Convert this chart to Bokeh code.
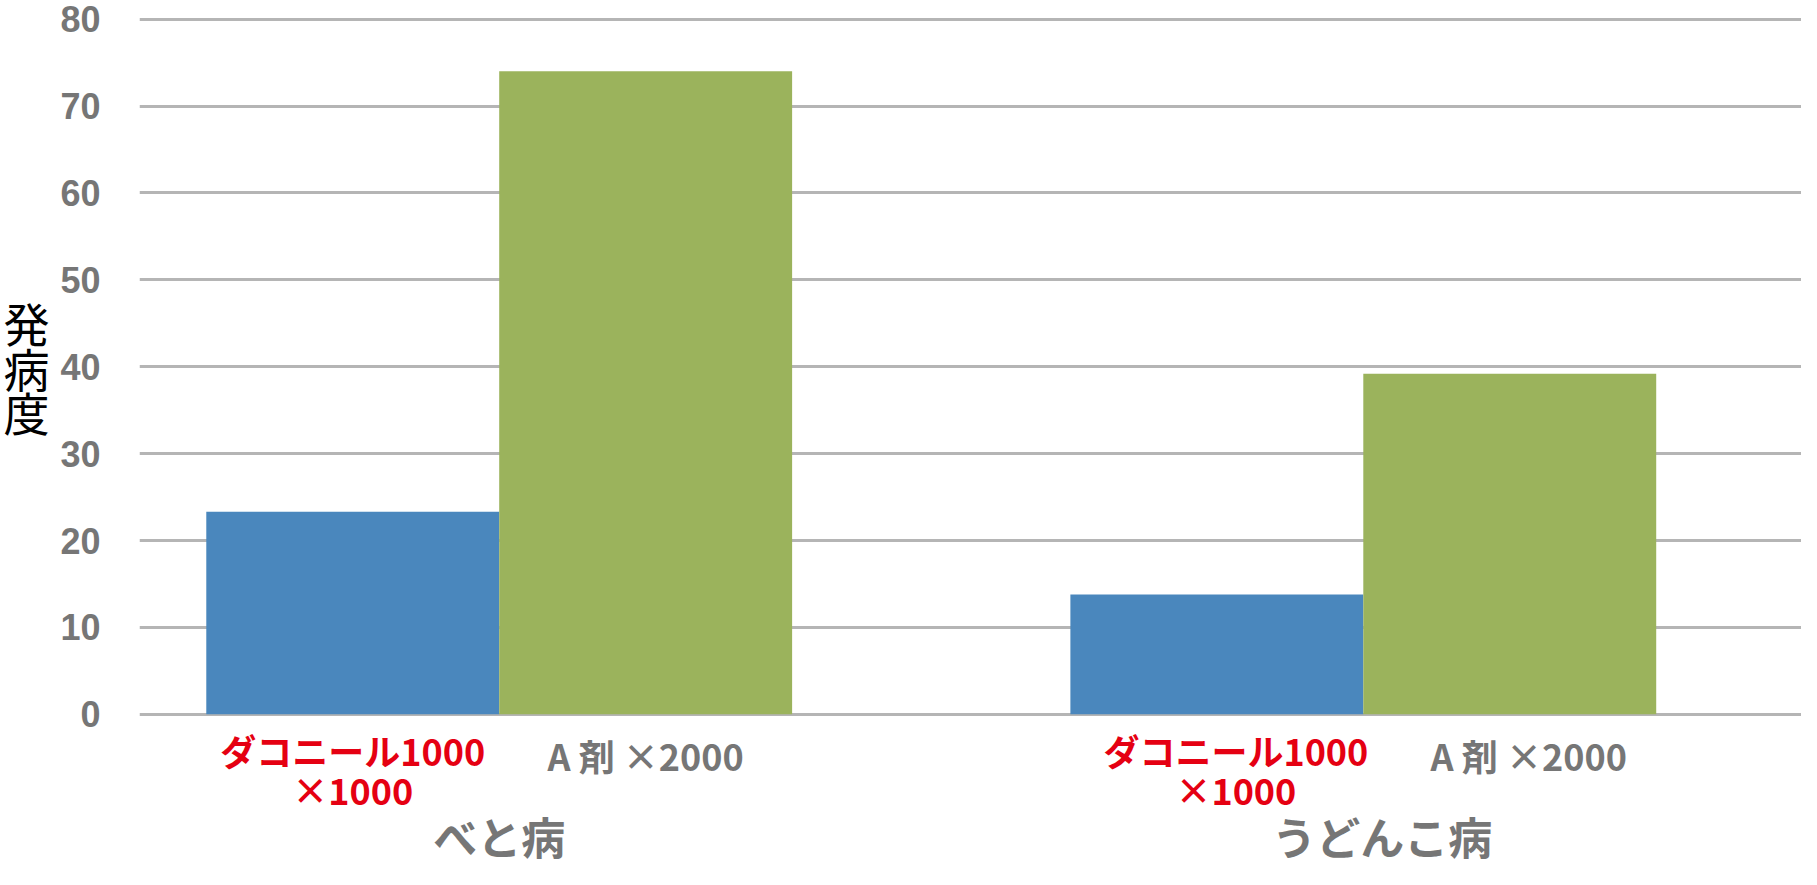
from bokeh.plotting import figure
from bokeh.models import Range1d, LinearAxis, FixedTicker, ColumnDataSource
from bokeh.embed import file_html
from bokeh.resources import INLINE

# ---- data ----
groups = ["べと病", "うどんこ病"]
treatments = ["ダコニール1000\n×1000", "A 剤 ×2000"]
daconil = [23.3, 13.8]
agent_a = [74.0, 39.2]
y_ticks = [0, 10, 20, 30, 40, 50, 60, 70, 80]
y_title = "発病度"

GAP = 0.95
n_t = len(treatments)
LABEL_SHIFT = [0.0, 0.065]   # the reference's labels of the 2nd group sit a bit right


def xpos(i, j):
    return i * (n_t + GAP) + j + 0.5


x_dac = [xpos(i, 0) for i in range(len(groups))]
x_a = [xpos(i, 1) for i in range(len(groups))]
x_grp = [xpos(i, 0) + (n_t - 1) / 2 for i in range(len(groups))]
lx_dac = [x + s for x, s in zip(x_dac, LABEL_SHIFT)]
lx_a = [x + s for x, s in zip(x_a, LABEL_SHIFT)]
lx_grp = [x + s for x, s in zip(x_grp, LABEL_SHIFT)]

GREY = "#767676"
RED = "#e50012"
BLUE = "#4a87bd"
GREEN = "#9bb35c"
GRID = "#b5b5b5"
CJK = "Noto Sans CJK JP"

p = figure(width=1801, height=869,
           x_range=Range1d(-0.228, 5.446), y_range=Range1d(-0.25, 80.3),
           output_backend="svg", toolbar_location=None,
           x_axis_location=None,
           min_border_left=133, min_border_right=0,
           min_border_top=16, min_border_bottom=153)
p.outline_line_color = None
p.background_fill_color = "white"
p.border_fill_color = "white"

src_d = ColumnDataSource(dict(x=x_dac, top=daconil))
src_a = ColumnDataSource(dict(x=x_a, top=agent_a))
p.vbar(x="x", top="top", bottom=0, width=1.0, source=src_d, fill_color=BLUE, line_color=None)
p.vbar(x="x", top="top", bottom=0, width=1.0, source=src_a, fill_color=GREEN, line_color=None)

# y axis
yax = p.yaxis[0]
yax.ticker = FixedTicker(ticks=y_ticks)
yax.axis_line_color = None
yax.major_tick_line_color = None
yax.minor_tick_line_color = None
yax.major_label_standoff = 33
yax.major_label_text_font = "Liberation Sans"
yax.major_label_text_font_style = "bold"
yax.major_label_text_font_size = "36px"
yax.major_label_text_color = GREY
yax.axis_label = "\n".join(list(y_title))
yax.axis_label_orientation = "horizontal"
yax.axis_label_text_font = CJK
yax.axis_label_text_font_style = "normal"
yax.axis_label_text_font_size = "46px"
yax.axis_label_text_color = "black"
yax.axis_label_text_line_height = 0.67
yax.axis_label_standoff = 8

p.ygrid.ticker = FixedTicker(ticks=y_ticks)
p.ygrid.grid_line_color = GRID
p.ygrid.grid_line_width = 3
p.xgrid.visible = False


def plain_axis(ticks, labels, font=CJK):
    ax = LinearAxis(ticker=FixedTicker(ticks=ticks),
                    major_label_overrides={x: t for x, t in zip(ticks, labels)})
    ax.axis_line_color = None
    ax.major_tick_line_color = None
    ax.minor_tick_line_color = None
    ax.major_tick_out = 0
    ax.major_tick_in = 0
    ax.major_label_text_font = font
    ax.major_label_text_font_style = "bold"
    return ax


# grey treatment labels (row nearest the bars)
ax_a = plain_axis(lx_a, [treatments[1]] * len(groups))
ax_a.major_label_standoff = 12
ax_a.major_label_text_font_size = "36px"
ax_a.major_label_text_color = GREY
ax_a.major_label_text_line_height = 1.0
p.add_layout(ax_a, "below")

# group labels
ax_g = plain_axis(lx_grp, groups, font="'Liberation Sans', 'Noto Sans CJK JP'")
ax_g.major_label_standoff = 31
ax_g.major_label_text_font_size = "44px"
ax_g.major_label_text_color = GREY
ax_g.major_label_text_line_height = 1.0
p.add_layout(ax_g, "below")

# red treatment labels, pulled back up onto the first row
ax_d = plain_axis(lx_dac, [treatments[0]] * len(groups))
ax_d.major_label_standoff = -143
ax_d.major_label_text_font_size = "36px"
ax_d.major_label_text_color = RED
ax_d.major_label_text_line_height = 0.76
p.add_layout(ax_d, "below")

open("out.html", "w").write(file_html(p, INLINE))
